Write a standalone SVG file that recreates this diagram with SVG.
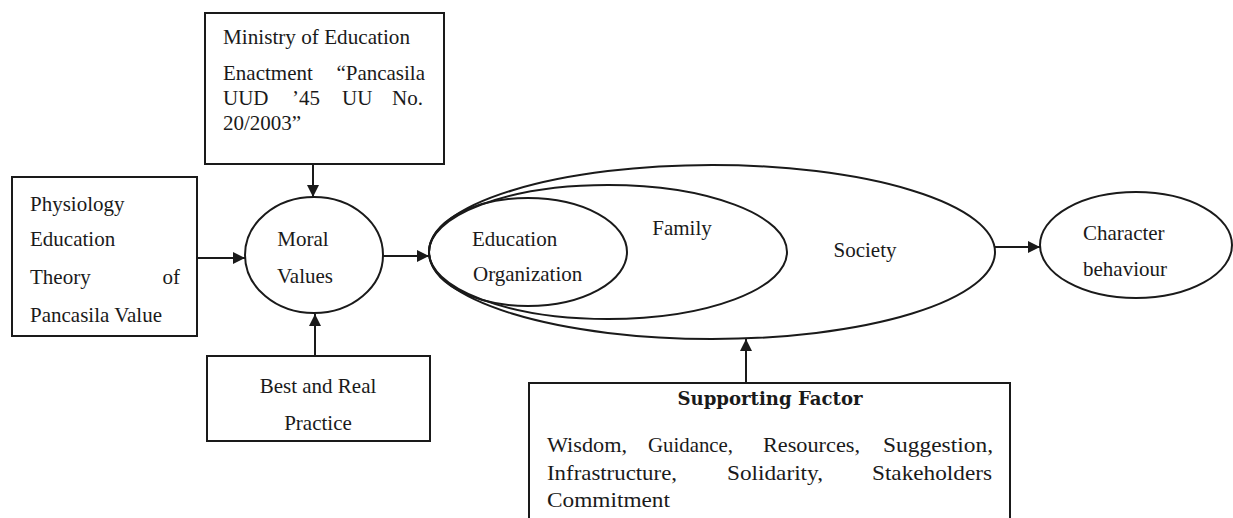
<svg xmlns="http://www.w3.org/2000/svg" width="1233" height="518" viewBox="0 0 1233 518">
<defs>
<style>
.box{fill:#fff;stroke:#1a1a1a;stroke-width:2}
.ell{fill:none;stroke:#1a1a1a;stroke-width:2}
.con{fill:none;stroke:#1a1a1a;stroke-width:2;marker-end:url(#ah)}
text{font-family:"Liberation Serif","DejaVu Serif",serif;font-size:21px;fill:#1a1a1a}
.sf{font-size:22px}
.b{font-family:"DejaVu Serif","Liberation Serif",serif;font-weight:bold;font-size:18px}
</style>
<marker id="ah" viewBox="0 0 10 10" refX="10" refY="5" markerWidth="6" markerHeight="6" markerUnits="strokeWidth" orient="auto">
<path d="M0,0 L10,5 L0,10 z" fill="#1a1a1a"/>
</marker>
</defs>
<rect width="1233" height="518" fill="#fff"/>

<g id="ministry">
<rect class="box" x="205" y="13" width="239" height="151"/>
<text x="223" y="44" textLength="187" lengthAdjust="spacingAndGlyphs">Ministry of Education</text>
<text x="223" y="80">Enactment</text>
<text x="425" y="80" text-anchor="end">“Pancasila</text>
<text x="223" y="105">UUD</text>
<text x="292" y="105">’45</text>
<text x="342" y="105">UU</text>
<text x="423" y="105" text-anchor="end">No.</text>
<text x="223" y="130">20/2003”</text>
</g>

<g id="physiology">
<rect class="box" x="12" y="177" width="185" height="159"/>
<text x="30" y="211">Physiology</text>
<text x="30" y="246">Education</text>
<text x="30" y="284">Theory</text>
<text x="180" y="284" text-anchor="end">of</text>
<text x="30" y="322">Pancasila Value</text>
</g>

<g id="moral">
<ellipse class="ell" cx="314" cy="255" rx="69" ry="58"/>
<text x="303" y="246" text-anchor="middle">Moral</text>
<text x="305" y="283" text-anchor="middle">Values</text>
</g>

<g id="best">
<rect class="box" x="207" y="356" width="223" height="85"/>
<text x="318" y="393" text-anchor="middle">Best and Real</text>
<text x="318" y="430" text-anchor="middle">Practice</text>
</g>

<g id="society">
<ellipse class="ell" cx="712" cy="252" rx="283" ry="87"/>
<text x="865" y="257" text-anchor="middle">Society</text>
</g>

<g id="family">
<ellipse class="ell" cx="608" cy="252" rx="179" ry="67"/>
<text x="682" y="235" text-anchor="middle">Family</text>
</g>

<g id="education">
<ellipse class="ell" cx="528" cy="252" rx="99" ry="54"/>
<text x="472" y="246">Education</text>
<text x="473" y="281">Organization</text>
</g>

<g id="character">
<ellipse class="ell" cx="1136" cy="245" rx="96" ry="53"/>
<text x="1083" y="240">Character</text>
<text x="1083" y="276">behaviour</text>
</g>

<g id="supporting">
<rect class="box" x="529" y="383" width="481" height="145"/>
<text class="b" x="770" y="405" text-anchor="middle" textLength="185" lengthAdjust="spacingAndGlyphs">Supporting Factor</text>
<text class="sf" x="547" y="452" textLength="80" lengthAdjust="spacingAndGlyphs">Wisdom,</text>
<text class="sf" x="648" y="452" textLength="85" lengthAdjust="spacingAndGlyphs">Guidance,</text>
<text class="sf" x="763" y="452" textLength="97" lengthAdjust="spacingAndGlyphs">Resources,</text>
<text class="sf" x="883" y="452" textLength="110" lengthAdjust="spacingAndGlyphs">Suggestion,</text>
<text class="sf" x="547" y="480" textLength="130" lengthAdjust="spacingAndGlyphs">Infrastructure,</text>
<text class="sf" x="727" y="480" textLength="96" lengthAdjust="spacingAndGlyphs">Solidarity,</text>
<text class="sf" x="872" y="480" textLength="120" lengthAdjust="spacingAndGlyphs">Stakeholders</text>
<text class="sf" x="547" y="507" textLength="123" lengthAdjust="spacingAndGlyphs">Commitment</text>
</g>

<g id="connectors">
<line class="con" x1="313" y1="164" x2="313" y2="197"/>
<line class="con" x1="197" y1="258" x2="245" y2="258"/>
<line class="con" x1="315" y1="356" x2="315" y2="314"/>
<line class="con" x1="383" y1="256" x2="429" y2="256"/>
<line class="con" x1="995" y1="247" x2="1040" y2="247"/>
<line class="con" x1="746" y1="383" x2="746" y2="339"/>
</g>
</svg>
